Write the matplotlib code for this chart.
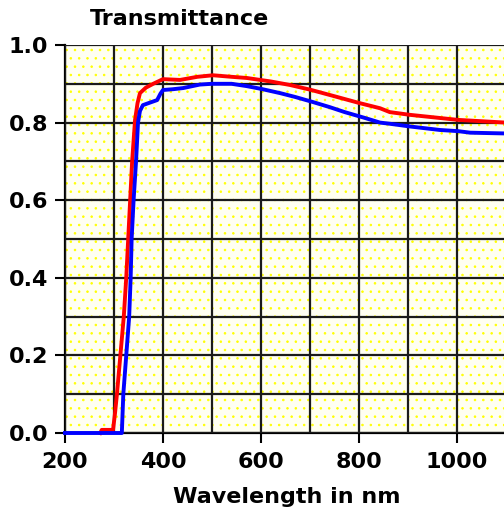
import numpy as np
import matplotlib.pyplot as plt
from matplotlib.patches import Rectangle

# wavelength (nm) / transmittance
blue_wl = [200, 316, 319, 325, 331, 334, 336, 340, 345, 349, 353, 359, 370, 388, 395, 400,
           420, 441, 475, 500, 540, 571, 600, 639, 670, 706, 740, 771, 812, 843, 863, 904,
           965, 1002, 1027, 1100]
blue_t = [0.0, 0.0, 0.1, 0.2, 0.3, 0.4, 0.5, 0.6, 0.7, 0.8, 0.83, 0.845, 0.85, 0.858, 0.875, 0.884,
          0.886, 0.889, 0.898, 0.90, 0.90, 0.894, 0.887, 0.876, 0.866, 0.853, 0.84, 0.827, 0.812, 0.80, 0.797, 0.79,
          0.781, 0.778, 0.774, 0.772]

red_wl = [272, 275, 298, 302, 306, 313, 320, 325, 329, 333, 337, 343, 348, 353, 365,
          380, 400, 435, 470, 502, 540, 571, 620, 659, 700, 741, 802, 843, 863, 904,
          1002, 1100]
red_t = [0.0, 0.008, 0.008, 0.05, 0.1, 0.2, 0.3, 0.4, 0.5, 0.6, 0.7, 0.807, 0.85, 0.876, 0.89,
         0.9, 0.912, 0.91, 0.918, 0.922, 0.918, 0.915, 0.906, 0.897, 0.885, 0.871, 0.85, 0.837, 0.827, 0.82,
         0.807, 0.80]

x_ticks = [200, 400, 600, 800, 1000]
y_ticks = [0.0, 0.2, 0.4, 0.6, 0.8, 1.0]

plt.rcParams['hatch.linewidth'] = 0.6
FS = 16

W, H = 504, 514
fig = plt.figure(figsize=(W / 100, H / 100), dpi=100)
ax = fig.add_axes([65 / W, (H - 433) / H, (W - 65) / W, (433 - 45) / H])

# dotted yellow background
ax.set_facecolor('white')
ax.add_patch(Rectangle((0, 0), 1, 1, transform=ax.transAxes, facecolor='#fffff2',
                       edgecolor='#ffff00', hatch='..', lw=0, zorder=0))

ax.set_xlim(200, 1096)
ax.set_ylim(0, 1.0)
ax.set_xticks(np.arange(200, 1100, 100))
ax.set_yticks(np.arange(0, 1.01, 0.1))
ax.grid(True, color='#1a1a1a', lw=1.6, zorder=1)

ax.plot(red_wl, red_t, color='#ff0000', lw=2.8, zorder=3, clip_on=False)
ax.plot(blue_wl, blue_t, color='#0000ff', lw=2.8, zorder=4, clip_on=False)

# only labelled ticks get marks outside
ax.tick_params(length=0, labelbottom=False, labelleft=False)
sec_x = ax.secondary_xaxis('bottom')
sec_x.set_xticks(x_ticks)
sec_x.set_xticklabels([str(v) for v in x_ticks])
sec_x.tick_params(length=7, width=1.5, pad=7, labelsize=FS)
sec_y = ax.secondary_yaxis('left')
sec_y.set_yticks(y_ticks)
sec_y.set_yticklabels([f'{v:.1f}' for v in y_ticks])
sec_y.tick_params(length=7, width=1.5, pad=5, labelsize=FS)
for lbl in sec_x.get_xticklabels() + sec_y.get_yticklabels():
    lbl.set_fontweight('bold')
sec_x.spines['bottom'].set_linewidth(1.6)
sec_y.spines['left'].set_linewidth(1.6)

for s in ax.spines.values():
    s.set_visible(False)

fig.text(180 / W, 1 - 19 / H, 'Transmittance', ha='center', va='center',
         fontsize=FS, fontweight='bold')
fig.text(287 / W, 1 - 497 / H, 'Wavelength in nm', ha='center', va='center',
         fontsize=FS, fontweight='bold')

fig.savefig('out.png', dpi=100)
